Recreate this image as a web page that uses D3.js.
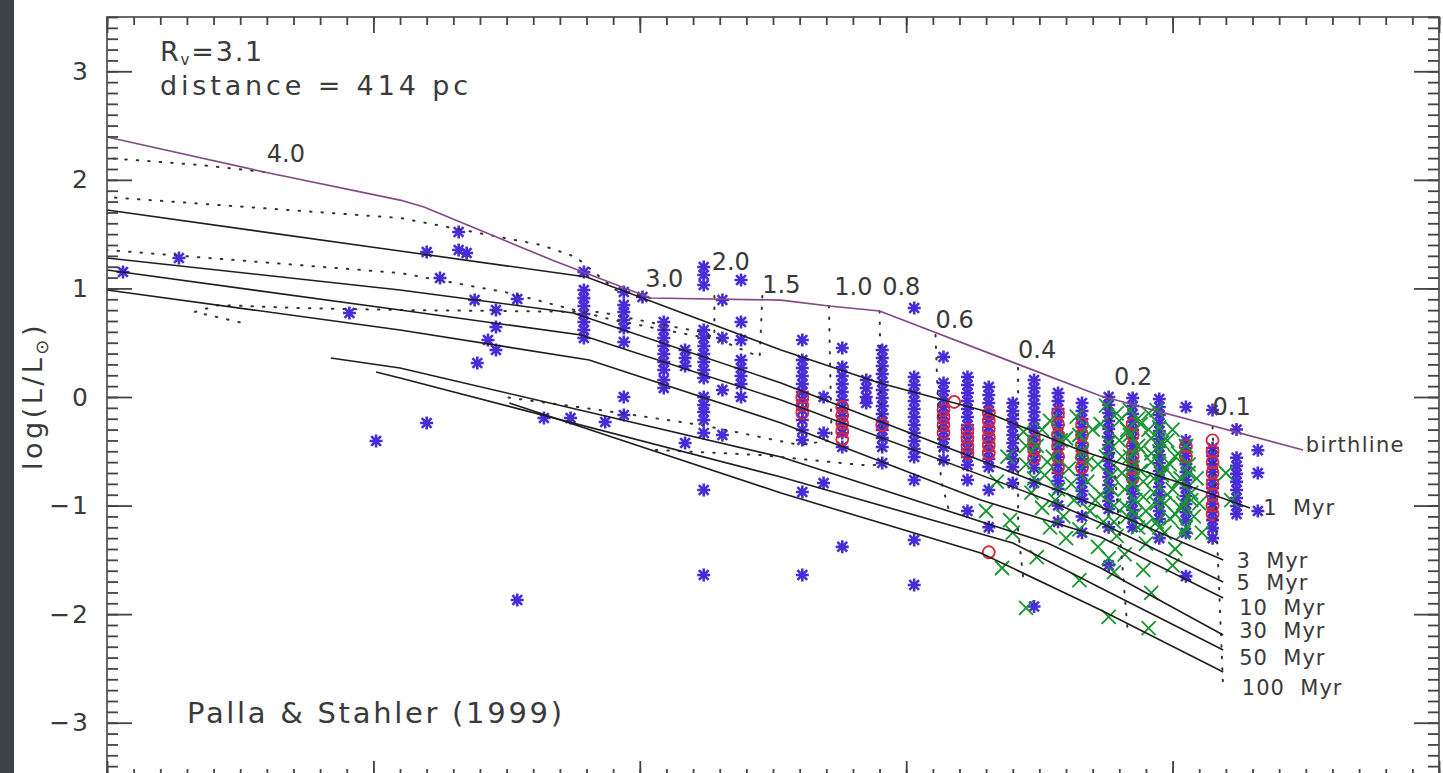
<!DOCTYPE html>
<html><head><meta charset="utf-8">
<script src="https://cdn.jsdelivr.net/npm/d3@7"></script>
<style>
html,body{margin:0;padding:0;background:#fff;overflow:hidden}
svg{display:block}
text{font-family:"DejaVu Sans",sans-serif;fill:#3a3a3a}
</style></head><body>
<svg id="chart" width="1443" height="773"></svg>
<script>
// ---------------- DATA (log Teff, log L/Lsun) ----------------
const yTickValues = [-3,-2,-1,0,1,2,3];
const yTickLabels = ["\u22123","\u22122","\u22121","0","1","2","3"];

const birthline = [[3.900,2.395],[3.841,2.072],[3.790,1.814],[3.781,1.750],[3.733,1.262],[3.696,0.912],[3.647,0.893],[3.629,0.838],[3.610,0.792],[3.527,0.009],[3.451,-0.488]];

const iso1   = [[3.900,1.722],[3.790,1.345],[3.720,1.105],[3.647,0.433],[3.610,0.129],[3.572,-0.120],[3.535,-0.488],[3.497,-0.792],[3.471,-1.022]];
const iso3   = [[3.900,1.280],[3.790,0.986],[3.725,0.774],[3.647,0.129],[3.527,-1.013],[3.481,-1.501]];
const iso5   = [[3.900,1.170],[3.790,0.801],[3.722,0.571],[3.647,-0.028],[3.547,-0.949],[3.527,-1.161],[3.481,-1.704]];
const iso10  = [[3.900,0.986],[3.790,0.617],[3.719,0.341],[3.647,-0.239],[3.572,-0.949],[3.527,-1.290],[3.481,-1.851]];
const iso30  = [[3.816,0.359],[3.790,0.267],[3.647,-0.553],[3.547,-1.345],[3.527,-1.575],[3.481,-2.192]];
const iso50  = [[3.799,0.230],[3.790,0.175],[3.647,-0.737],[3.560,-1.345],[3.527,-1.759],[3.481,-2.330]];
const iso100 = [[3.749,-0.055],[3.647,-0.884],[3.572,-1.437],[3.527,-1.962],[3.481,-2.533]];
const isoLabels = ["1  Myr","3  Myr","5  Myr","10  Myr","30  Myr","50  Myr","100  Myr"];
const isoLabelAt = [[3.466,-1.087],[3.476,-1.575],[3.476,-1.778],[3.475,-2.008],[3.475,-2.220],[3.475,-2.468],[3.474,-2.745]];

const trk40 = [[3.841,2.072],[3.865,2.137],[3.900,2.201]];
const trk30 = [[3.696,0.912],[3.709,0.986],[3.724,1.289],[3.737,1.400],[3.790,1.649],[3.900,1.842]];
const trk20 = [[3.672,0.930],[3.672,0.553],[3.677,0.553],[3.710,0.709],[3.749,0.958],[3.790,1.142],[3.900,1.354]];
const trk15 = [[3.654,0.930],[3.655,0.368],[3.677,0.599],[3.695,0.682],[3.715,0.783],[3.790,0.801],[3.828,0.820],[3.858,0.847],[3.867,0.783],[3.849,0.682]];
const trk10 = [[3.629,0.838],[3.628,-0.396],[3.640,-0.442],[3.677,-0.258],[3.715,-0.120],[3.751,0.000]];
const trk08 = [[3.610,0.792],[3.609,-0.626],[3.617,-0.626],[3.655,-0.534],[3.694,-0.488]];
const trk06 = [[3.589,0.571],[3.587,-0.764],[3.584,-1.040]];
const trk04 = [[3.558,0.267],[3.558,-1.225],[3.556,-1.686]];
const trk02 = [[3.524,0.009],[3.517,-2.118]];
const trk01 = [[3.485,-0.276],[3.481,-2.700]];
const massLabels = ["4.0","3.0","2.0","1.5","1.0","0.8","0.6","0.4","0.2","0.1"];
const massLabelAt = [[3.840,2.165],[3.698,1.013],[3.673,1.170],[3.654,0.958],[3.627,0.939],[3.609,0.939],[3.589,0.636],[3.558,0.359],[3.522,0.111],[3.485,-0.166]];

// observed stars: [log Teff, [log L ...]]
const blueCols = [
 [3.894,[1.151]],[3.873,[1.280]],[3.809,[0.774]],[3.799,[-0.405]],[3.780,[1.336,-0.239]],
 [3.775,[1.096]],[3.768,[1.520,1.354]],[3.765,[1.326]],[3.762,[0.893]],[3.761,[0.313]],
 [3.757,[0.525]],[3.754,[0.801,0.645,0.433]],[3.746,[0.903,-1.870]],[3.736,[-0.193]],[3.726,[-0.193]],
 [3.721,[1.151,0.986,0.911,0.838,0.764,0.691,0.617,0.543]],
 [3.713,[-0.230]],
 [3.706,[0.967,0.847,0.783,0.709,0.636,0.507,0.000,-0.166]],
 [3.699,[0.921]],
 [3.691,[0.691,0.617,0.543,0.470,0.396,0.322,0.249,0.157,0.083]],
 [3.683,[0.433,0.359,0.286,-0.424]],
 [3.676,[1.197,1.124,1.032,0.617,0.543,0.470,0.396,0.322,0.249,0.175,0.000,-0.074,-0.138,-0.212,-0.332,-0.857,-1.639]],
 [3.669,[0.893,0.543,0.064,-0.350]],
 [3.662,[1.078,0.691,0.525,0.341,0.267,0.193,0.120,0.000]],
 [3.639,[0.525,0.341,0.267,0.193,0.120,0.046,-0.028,-0.120,-0.212,-0.304,-0.396,-0.875,-1.639]],
 [3.631,[0.000,-0.332,-0.792]],
 [3.624,[0.451,0.276,0.193,0.120,0.046,-0.028,-0.101,-0.175,-0.249,-0.332,-0.461,-1.380]],
 [3.615,[0.157,0.083,0.000,-0.055]],
 [3.609,[0.433,0.359,0.286,0.212,0.138,0.064,-0.009,-0.083,-0.157,-0.230,-0.304,-0.378,-0.461,-0.608]],
 [3.597,[0.820,0.184,0.110,0.037,-0.037,-0.110,-0.184,-0.258,-0.332,-0.405,-0.479,-0.553,-0.764,-1.317,-1.732]],
 [3.586,[0.368,0.129,0.055,-0.018,-0.092,-0.166,-0.240,-0.313,-0.387,-0.461,-0.580]],
 [3.577,[0.184,0.110,0.037,-0.037,-0.110,-0.184,-0.258,-0.332,-0.405,-0.479,-0.553,-0.627,-0.764,-1.050]],
 [3.569,[0.092,0.018,-0.055,-0.129,-0.203,-0.276,-0.350,-0.424,-0.498,-0.571,-0.645,-0.857,-1.200]],
 [3.560,[-0.055,-0.129,-0.203,-0.276,-0.350,-0.424,-0.498,-0.571,-0.645,-0.792]],
 [3.552,[0.157,0.083,0.009,-0.064,-0.138,-0.212,-0.286,-0.359,-0.433,-0.507,-0.580,-0.654,-0.792,-1.930]],
 [3.543,[0.037,-0.037,-0.110,-0.184,-0.258,-0.332,-0.405,-0.479,-0.553,-0.627,-0.700,-0.774,-0.848,-1.000,-1.150]],
 [3.534,[-0.055,-0.129,-0.203,-0.276,-0.350,-0.424,-0.498,-0.571,-0.645,-0.719,-0.792,-0.866,-0.940,-1.100,-1.250]],
 [3.524,[0.000,-0.074,-0.147,-0.221,-0.295,-0.369,-0.442,-0.516,-0.590,-0.664,-0.737,-0.811,-0.885,-0.958,-1.032,-1.200,-1.550]],
 [3.515,[-0.009,-0.083,-0.157,-0.230,-0.304,-0.378,-0.451,-0.525,-0.599,-0.673,-0.746,-0.820,-0.894,-0.967,-1.041,-1.115,-1.200]],
 [3.505,[-0.018,-0.092,-0.166,-0.240,-0.313,-0.387,-0.461,-0.534,-0.608,-0.682,-0.755,-0.829,-0.903,-0.977,-1.050,-1.124,-1.300]],
 [3.495,[-0.092,-0.400,-0.470,-0.544,-0.618,-0.691,-0.765,-0.839,-0.912,-0.986,-1.060,-1.134,-1.250,-1.650]],
 [3.485,[-0.120,-0.470,-0.544,-0.618,-0.691,-0.765,-0.839,-0.912,-0.986,-1.060,-1.134,-1.208,-1.300]],
 [3.476,[-0.300,-0.560,-0.634,-0.708,-0.782,-0.856,-0.930,-1.004,-1.078]],
 [3.468,[-0.490,-0.700,-1.050]]
];
const redCols = [
 [3.639,[0.000,-0.074,-0.147]],[3.624,[-0.092,-0.166,-0.240,-0.313,-0.387]],[3.609,[-0.258]],
 [3.586,[-0.120,-0.190,-0.260,-0.330]],[3.582,[-0.046]],[3.577,[-0.300,-0.370,-0.450,-0.520]],
 [3.569,[-0.150,-0.220,-0.300,-0.380,-0.450,-0.520,-1.430]],[3.552,[-0.400,-0.480,-0.560]],
 [3.543,[-0.150,-0.250,-0.350,-0.450,-0.550,-0.650]],[3.534,[-0.250,-0.350,-0.450,-0.550,-0.650]],
 [3.515,[-0.250,-0.350,-0.450,-0.550,-0.650,-0.750]],[3.495,[-0.450,-0.550]],
 [3.485,[-0.400,-0.500,-0.600,-0.700,-0.800,-0.900,-1.000,-1.080]]
];
const greenPts = [
 [3.564,-1.575],[3.561,-1.133],[3.555,-1.943],[3.551,-1.474],[3.535,-1.686],[3.524,-1.483],[3.524,-2.026],
 [3.522,-1.612],[3.511,-1.593],[3.508,-1.805],[3.509,-2.128],[3.570,-1.05],[3.566,-0.78],[3.562,-0.55],
 [3.556,-0.32],[3.555,-0.62],[3.553,-0.88],[3.551,-0.45],[3.549,-1.02],[3.548,-0.72],[3.546,-0.22],
 [3.545,-0.55],[3.543,-0.85],[3.541,-1.10],[3.540,-0.38],[3.539,-0.66],[3.537,-0.95],[3.536,-0.18],
 [3.535,-1.22],[3.534,-0.50],[3.532,-0.78],[3.531,-1.05],[3.530,-0.30],[3.528,-0.62],[3.527,-0.90],
 [3.526,-1.15],[3.525,-0.08],[3.524,-0.42],[3.523,-0.72],[3.522,-1.00],[3.521,-1.28],[3.520,-0.22],
 [3.519,-0.55],[3.518,-0.85],[3.517,-1.10],[3.516,-0.12],[3.516,-0.35],[3.515,-0.65],[3.514,-0.95],
 [3.513,-1.20],[3.512,-0.25],[3.512,-0.48],[3.511,-0.78],[3.510,-1.05],[3.510,-1.35],[3.509,-0.15],
 [3.508,-0.38],[3.508,-0.60],[3.507,-0.88],[3.506,-1.15],[3.505,-0.28],[3.505,-0.50],[3.504,-0.72],
 [3.503,-0.98],[3.503,-1.25],[3.502,-0.40],[3.501,-0.62],[3.500,-0.85],[3.499,-1.08],[3.499,-1.40],
 [3.498,-0.52],[3.497,-0.75],[3.496,-0.98],[3.495,-1.20],[3.494,-0.62],[3.493,-0.88],[3.492,-1.10],
 [3.491,-0.75],[3.490,-0.98],[3.489,-1.25],[3.480,-0.70],[3.478,-0.95],[3.528,-1.38],[3.540,-1.30],
 [3.518,-1.45],[3.500,-1.55],[3.546,-1.20],[3.560,-1.25],
 [3.520,-0.40],[3.519,-0.70],[3.518,-1.00],[3.517,-0.30],[3.516,-0.55],[3.515,-0.80],[3.514,-1.08],
 [3.513,-0.45],[3.512,-0.68],[3.511,-0.92],[3.510,-1.18],[3.509,-0.30],[3.508,-0.52],[3.507,-0.75],
 [3.506,-0.98],[3.505,-1.20],[3.504,-0.42],[3.503,-0.65],[3.502,-0.90],[3.501,-1.12],[3.500,-0.30],
 [3.499,-0.55],[3.498,-0.78],[3.497,-1.02],[3.496,-1.25],[3.495,-0.45],[3.494,-0.70],[3.493,-0.95],
 [3.521,-0.15],[3.513,-0.20],[3.506,-0.12],[3.555,-0.45],[3.552,-0.75],[3.549,-0.30],[3.547,-0.60],
 [3.544,-0.95],[3.542,-0.40],[3.538,-0.80],[3.535,-0.35],[3.532,-0.60],[3.529,-0.95],[3.527,-0.25],
 [3.525,-0.55],[3.523,-0.85],[3.522,-1.15]
];

// ---------------- DRAWING ----------------
const W = 1443, H = 773;
const svg = d3.select("#chart");
const x = d3.scaleLinear().domain([3.9, 3.4]).range([107, 1439]);
const y = d3.scaleLinear().domain([-3.5, 3.5]).range([777, 17]);

svg.append("rect").attr("width", W).attr("height", H).attr("fill", "#fff");
svg.append("rect").attr("x", 0).attr("y", 0).attr("width", 14).attr("height", H).attr("fill", "#3d4148");

const plot = svg.append("g");
svg.append("clipPath").attr("id", "clip").append("rect")
  .attr("x", 107).attr("y", 17).attr("width", 1332).attr("height", 760);

const flat = cols => cols.flatMap(([t, ls]) => ls.map(l => [t, l]));
const asterisk = { draw(ctx, size) { const r = Math.sqrt(size) / 2; const d = r * 0.75;
  ctx.moveTo(-r, 0); ctx.lineTo(r, 0); ctx.moveTo(0, -r); ctx.lineTo(0, r);
  ctx.moveTo(-d, -d); ctx.lineTo(d, d); ctx.moveTo(-d, d); ctx.lineTo(d, -d); } };
const xmark = { draw(ctx, size) { const r = Math.sqrt(size) / 2;
  ctx.moveTo(-r, -r); ctx.lineTo(r, r); ctx.moveTo(-r, r); ctx.lineTo(r, -r); } };

const pg = plot.append("g").attr("clip-path", "url(#clip)");
pg.selectAll("path.blue").data(flat(blueCols)).join("path").attr("class", "blue")
  .attr("transform", d => `translate(${x(d[0])},${y(d[1])})`)
  .attr("d", d3.symbol().type(asterisk).size(169))
  .attr("stroke", "#4a2bd8").attr("stroke-width", 2.6).attr("fill", "none");
pg.selectAll("circle.red").data(flat(redCols)).join("circle").attr("class", "red")
  .attr("cx", d => x(d[0])).attr("cy", d => y(d[1])).attr("r", 6)
  .attr("fill", "none").attr("stroke", "#d42a3c").attr("stroke-width", 1.8);
pg.selectAll("path.green").data(greenPts).join("path").attr("class", "green")
  .attr("transform", d => `translate(${x(d[0])},${y(d[1])})`)
  .attr("d", d3.symbol().type(xmark).size(196))
  .attr("stroke", "#16962f").attr("stroke-width", 1.8).attr("fill", "none");

const line = d3.line().x(d => x(d[0])).y(d => y(d[1]));
const lg = plot.append("g").attr("clip-path", "url(#clip)").attr("fill", "none");
[trk40, trk30, trk20, trk15, trk10, trk08, trk06, trk04, trk02, trk01].forEach(t =>
  lg.append("path").attr("d", line(t)).attr("stroke", "#333").attr("stroke-width", 2)
    .attr("stroke-dasharray", "1.5,10").attr("stroke-linecap", "round"));
[iso1, iso3, iso5, iso10, iso30, iso50, iso100].forEach(t =>
  lg.append("path").attr("d", line(t)).attr("stroke", "#1e1e1e").attr("stroke-width", 1.6));
lg.append("path").attr("d", line(birthline)).attr("stroke", "#824a86").attr("stroke-width", 1.7);

const tg = svg.append("g");
tg.selectAll("text.mass").data(massLabels).join("text").attr("class", "mass")
  .attr("x", (d, i) => x(massLabelAt[i][0])).attr("y", (d, i) => y(massLabelAt[i][1]))
  .attr("font-size", 24).text(d => d);
tg.selectAll("text.iso").data(isoLabels).join("text").attr("class", "iso")
  .attr("x", (d, i) => x(isoLabelAt[i][0])).attr("y", (d, i) => y(isoLabelAt[i][1]))
  .attr("font-size", 21).attr("letter-spacing", 1).style("white-space", "pre").text(d => d);
tg.append("text").attr("x", x(3.450)).attr("y", y(-0.507)).attr("font-size", 21)
  .attr("letter-spacing", 1.3).text("birthline");

svg.append("rect").attr("x", 107).attr("y", 17).attr("width", 1332).attr("height", 760)
  .attr("fill", "none").attr("stroke", "#444").attr("stroke-width", 1.6);

const yMinor = d3.range(-35, 36).map(i => i / 10);
const xMinor = d3.range(340, 391).map(i => i / 100);
const xMajor = [3.9, 3.8, 3.7, 3.6, 3.5, 3.4];
function styleAxis(g) { g.select(".domain").remove(); g.selectAll("line").attr("stroke", "#444").attr("stroke-width", 1.8); }
svg.append("g").attr("transform", "translate(107,0)").call(d3.axisRight(y).tickValues(yMinor).tickSize(11).tickFormat("")).call(styleAxis);
svg.append("g").attr("transform", "translate(107,0)").call(d3.axisRight(y).tickValues(yTickValues).tickSize(25).tickFormat("")).call(styleAxis);
svg.append("g").attr("transform", "translate(1439,0)").call(d3.axisLeft(y).tickValues(yMinor).tickSize(11).tickFormat("")).call(styleAxis);
svg.append("g").attr("transform", "translate(1439,0)").call(d3.axisLeft(y).tickValues(yTickValues).tickSize(25).tickFormat("")).call(styleAxis);
svg.append("g").attr("transform", "translate(0,17)").call(d3.axisBottom(x).tickValues(xMinor).tickSize(8).tickFormat("")).call(styleAxis);
svg.append("g").attr("transform", "translate(0,17)").call(d3.axisBottom(x).tickValues(xMajor).tickSize(16).tickFormat("")).call(styleAxis);
svg.append("g").attr("transform", "translate(0,777)").call(d3.axisTop(x).tickValues(xMinor).tickSize(8).tickFormat("")).call(styleAxis);
svg.append("g").attr("transform", "translate(0,777)").call(d3.axisTop(x).tickValues(xMajor).tickSize(16).tickFormat("")).call(styleAxis);
const yl = svg.append("g").attr("transform", "translate(107,0)")
  .call(d3.axisLeft(y).tickValues(yTickValues).tickSize(0).tickPadding(17).tickFormat((d, i) => yTickLabels[i]));
yl.select(".domain").remove();
yl.selectAll("text").attr("font-size", 25).attr("fill", "#3a3a3a").attr("font-family", "DejaVu Sans").attr("letter-spacing", 2);

const yt = svg.append("text").attr("transform", "translate(42,396) rotate(-90)")
  .attr("text-anchor", "middle").attr("font-size", 27).attr("letter-spacing", 3.5);
yt.append("tspan").text("log(L/L");
yt.append("tspan").attr("font-size", 18).attr("dy", 6).text("\u2299");
yt.append("tspan").attr("dy", -6).text(")");

const rv = svg.append("text").attr("x", 160).attr("y", 61).attr("font-size", 27).attr("letter-spacing", 1.8);
rv.append("tspan").text("R");
rv.append("tspan").attr("font-size", 15).attr("dy", 4).text("v");
rv.append("tspan").attr("dy", -4).text("=3.1");
svg.append("text").attr("x", 160).attr("y", 95).attr("font-size", 27)
  .attr("textLength", 308).attr("lengthAdjust", "spacing").text("distance = 414 pc");
svg.append("text").attr("x", 187).attr("y", 723).attr("font-size", 29)
  .attr("textLength", 375).attr("lengthAdjust", "spacing").text("Palla & Stahler (1999)");
</script></body></html>
